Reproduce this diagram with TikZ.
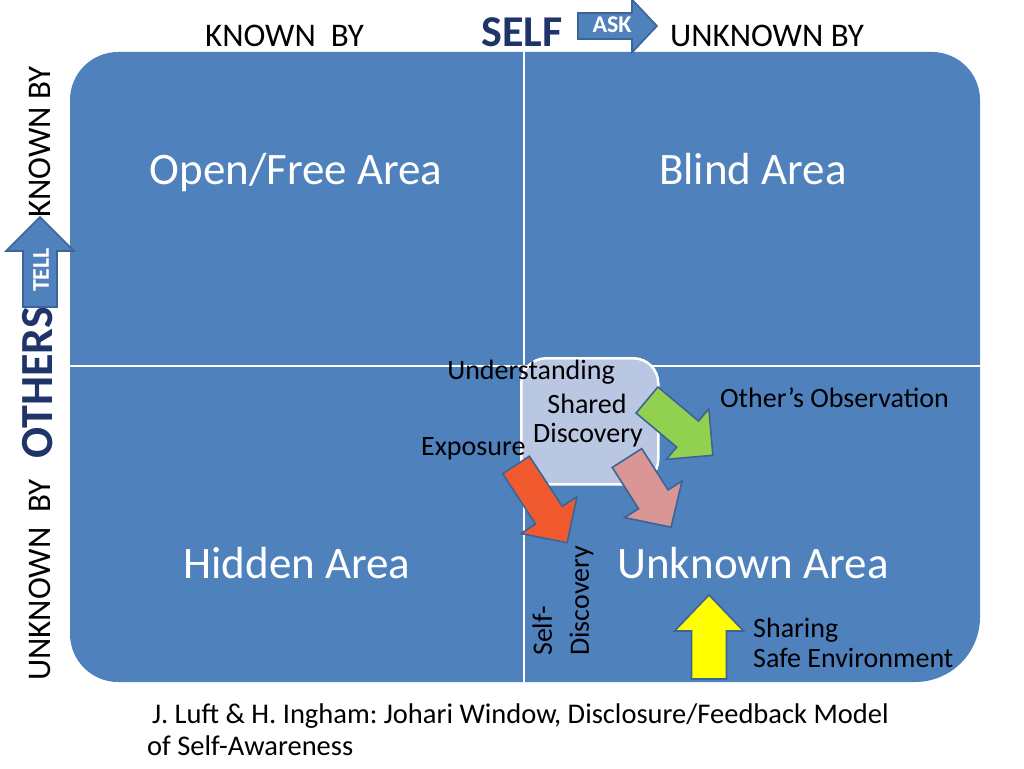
\documentclass[tikz,border=0pt]{standalone}
\usepackage{fontspec}
\setmainfont{Carlito}
\frenchspacing
\definecolor{mainblue}{HTML}{4F81BD}
\definecolor{navy}{HTML}{1F3468}
\definecolor{lightbox}{HTML}{B9C7E2}
\definecolor{arrowline}{HTML}{3C6496}
\definecolor{arrgreen}{HTML}{92D050}
\definecolor{arrpink}{HTML}{D99694}
\definecolor{arrred}{HTML}{F05A2E}
\definecolor{arryellow}{HTML}{FFFF00}
\newcommand\blkarrow[8]{%
  \begin{scope}[shift={(#2,#3)},rotate=#4]
    \path[#1] (0,-#6/2) -- (#5-#8,-#6/2) -- (#5-#8,-#7/2) -- (#5,0)
      -- (#5-#8,#7/2) -- (#5-#8,#6/2) -- (0,#6/2) -- cycle;
  \end{scope}}
\begin{document}
\begin{tikzpicture}[x=1pt,y=-1pt,
  headtxt/.style={inner sep=0, font=\fontsize{33}{40}\selectfont},
  boldtxt/.style={inner sep=0, text=navy, font=\fontsize{44}{50}\selectfont\bfseries},
  quadtxt/.style={inner sep=0, text=white, font=\fontsize{45}{52}\selectfont},
  lbl/.style={inner sep=0, font=\fontsize{28}{30}\selectfont},
  arrtxt/.style={inner sep=0, text=white, font=\fontsize{24}{28}\selectfont\bfseries},
  barrow/.style={draw=arrowline, line width=1.6pt, line join=miter},
  divider/.style={draw=white, line width=2.2pt}]
\useasboundingbox (0,0) rectangle (1024,768);
% main window
\fill[mainblue] (118,52) -- (932,52) .. controls (958.5,52) and (980,73.5) .. (980,100)
  -- (980,617) .. controls (980,653) and (951,682) .. (915,682)
  -- (118,682) .. controls (91.5,682) and (70,660.5) .. (70,634)
  -- (70,100) .. controls (70,73.5) and (91.5,52) .. (118,52) -- cycle;
\coordinate (vt) at (524,52);
\coordinate (vb) at (524,682);
\coordinate (hl) at (70,366);
\coordinate (hr) at (980,366);
\draw[divider] (vt) -- (vb);
\draw[divider] (hl) -- (hr);
% understanding box
\node[draw=white, line width=2.5pt, fill=lightbox, rounded corners=25pt,
  minimum width=137pt, minimum height=126pt, anchor=north west, inner sep=0] (ubox) at (520,357) {};
% top labels
\node[headtxt, anchor=base west] (kbtop) at (205,47) {KNOWN~~BY};
\node[boldtxt, anchor=base] (self) at (522,47) {SELF};
\node[headtxt, anchor=base west] (ukbtop) at (670,47) {UNKNOWN BY};
% ASK arrow
\blkarrow{barrow, fill=mainblue}{578}{26}{0}{79}{26}{53}{25}
\node[arrtxt] (ask) at (612,25) {ASK};
% left labels
\node[headtxt, rotate=90, anchor=base west] (ukbleft) at (50,681) {UNKNOWN~~BY};
\node[boldtxt, rotate=90, anchor=base west, font=\fontsize{46}{52}\selectfont\bfseries] (others) at (52,459) {OTHERS};
\node[headtxt, rotate=90, anchor=base west] (kbleft) at (50,218) {KNOWN BY};
% TELL arrow
\blkarrow{barrow, fill=mainblue}{40}{307}{90}{90}{34}{68}{34}
\node[arrtxt, rotate=90] (tell) at (41,270) {TELL};
% quadrant titles
\node[quadtxt, anchor=base] (open) at (296,184) {Open/Free Area};
\node[quadtxt, anchor=base] (blind) at (753,184) {Blind Area};
\node[quadtxt, anchor=base] (hidden) at (297,578) {Hidden Area};
\node[quadtxt, anchor=base] (unknown) at (753,578) {Unknown Area};
% arrows
\blkarrow{barrow, fill=arrgreen}{647}{400}{-40}{86}{34}{66}{33}
\blkarrow{barrow, fill=arrpink}{627}{458}{-57.5}{82}{35}{68}{33}
\blkarrow{barrow, fill=arrred}{516}{465}{-56.7}{93}{32}{67}{33}
\blkarrow{barrow, fill=arryellow}{709}{679}{90}{84}{35}{69}{36}
% small labels
\node[lbl, anchor=base] (under) at (531,379) {Understanding};
\node[lbl, anchor=base] (shared) at (587,413) {Shared};
\node[lbl, anchor=base] (disc) at (588,442) {Discovery};
\node[lbl, anchor=base west] (expo) at (421,455) {Exposure};
\node[lbl, anchor=base west] (obs) at (720,407) {Other’s Observation};
\node[lbl, anchor=base west] (sharing) at (753,637) {Sharing};
\node[lbl, anchor=base west] (safe) at (753,667) {Safe Environment};
\node[lbl, rotate=90, anchor=west, align=left, font=\fontsize{28}{37}\selectfont] (selfd) at (563,656) {Self-\\Discovery};
% citation
\node[lbl, anchor=base west, font=\fontsize{28.5}{32}\selectfont] (cite1) at (152,723) {J. Luft \& H. Ingham: Johari Window, Disclosure/Feedback Model};
\node[lbl, anchor=base west, font=\fontsize{28.5}{32}\selectfont] (cite2) at (147,755) {of Self-Awareness};
\end{tikzpicture}
\end{document}
